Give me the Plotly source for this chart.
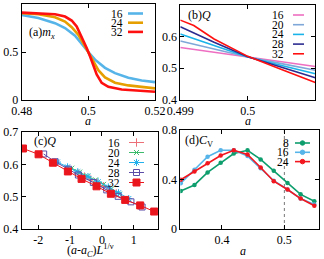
import plotly.graph_objects as go

# ---------------- data ----------------
# (a) m_x vs a
a16 = [0.48, 0.485, 0.49, 0.493, 0.496, 0.498, 0.5, 0.502, 0.505, 0.508, 0.512, 0.516, 0.52]
mx16 = [0.886, 0.855, 0.80, 0.75, 0.67, 0.58, 0.50, 0.42, 0.335, 0.28, 0.232, 0.204, 0.186]
a24 = [0.48, 0.485, 0.49, 0.493, 0.495, 0.497, 0.499, 0.5, 0.501, 0.503, 0.505, 0.508, 0.512, 0.516, 0.52]
mx24 = [0.903, 0.893, 0.862, 0.817, 0.759, 0.679, 0.559, 0.5, 0.43, 0.31, 0.235, 0.18, 0.152, 0.134, 0.121]
a32 = [0.48, 0.485, 0.49, 0.493, 0.495, 0.4965, 0.498, 0.4995, 0.5005, 0.5015, 0.5025, 0.504, 0.506, 0.51, 0.515, 0.52]
mx32 = [0.910, 0.903, 0.893, 0.869, 0.828, 0.766, 0.662, 0.541, 0.455, 0.352, 0.266, 0.179, 0.138, 0.110, 0.097, 0.086]

# (b) Q vs a
b_a = [0.499, 0.4995, 0.5, 0.5005, 0.501]
b_a32 = [0.499, 0.4992, 0.4995, 0.5, 0.5005, 0.501]
Q16 = [0.565, 0.550, 0.536, 0.520, 0.505]
Q20 = [0.586, 0.561, 0.535, 0.514, 0.493]
Q24 = [0.608, 0.571, 0.535, 0.508, 0.482]
Q28 = [0.631, 0.582, 0.536, 0.502, 0.469]
Q32 = [0.652, 0.635, 0.592, 0.537, 0.495, 0.454]

# (c) scaling collapse
c16_x = [-0.75, -0.55, -0.35, -0.15, 0.05, 0.25, 0.45]
c16_y = [0.572, 0.562, 0.553, 0.543, 0.532, 0.521, 0.510]
c20_x = [-0.95, -0.70, -0.45, -0.20, 0.05, 0.30, 0.55]
c20_y = [0.588, 0.576, 0.564, 0.552, 0.538, 0.524, 0.508]
c24_x = [-1.40, -1.08, -0.76, -0.44, -0.12, 0.20, 0.52, 0.84]
c24_y = [0.607, 0.592, 0.577, 0.562, 0.546, 0.530, 0.512, 0.494]
c28_x = [-1.83, -1.47, -1.05, -0.74, -0.27, 0.15, 0.51, 0.91, 1.26]
c28_y = [0.632, 0.608, 0.585, 0.567, 0.544, 0.521, 0.501, 0.484, 0.468]
c32_x = [-2.48, -1.99, -1.54, -1.07, -0.64, -0.17, 0.28, 0.73, 1.20, 1.64]
c32_y = [0.649, 0.631, 0.605, 0.578, 0.555, 0.532, 0.509, 0.490, 0.473, 0.454]

# (d) C_V vs a
d_a = [0.334, 0.356, 0.377, 0.398, 0.419, 0.441, 0.462, 0.483, 0.505, 0.526, 0.548]
cv8 = [0.307, 0.356, 0.457, 0.536, 0.610, 0.636, 0.562, 0.470, 0.372, 0.280, 0.224]
cv16 = [0.370, 0.478, 0.584, 0.636, 0.636, 0.589, 0.491, 0.390, 0.319, 0.246, 0.198]
cv24 = [0.398, 0.465, 0.531, 0.594, 0.636, 0.602, 0.497, 0.386, 0.319, 0.246, 0.188]

a_sizes = ["16", "24", "32"]
b_sizes = ["16", "20", "24", "28", "32"]
d_sizes = ["8", "16", "24"]

W, H = 324, 259
FONT = "Liberation Serif"
FS = 12
LFS = 11.5


def px(x):
    return x / W


def py(y):
    return 1 - y / H


fig = go.Figure()

# ---- colours ----
ca = ["#56B4E9", "#E69F00", "#FF1010"]
cb = ["#EE6FC2", "#7FA8D8", "#19B3EA", "#2C2C90", "#FF1010"]
cc = ["#EC6F78", "#3DBB6C", "#22B0EC", "#5B4DA8", "#EA161E"]
cd = ["#0E9E6E", "#56B4E9", "#F2161E"]

# ---- panel a ----
for x, y, c in zip([a16, a24, a32], [mx16, mx24, mx32], ca):
    fig.add_trace(go.Scatter(x=x, y=y, mode="lines", line=dict(color=c, width=2.6),
                             xaxis="x", yaxis="y", showlegend=False, hoverinfo="skip"))

# ---- panel b ----
for x, y, c in zip([b_a, b_a, b_a, b_a, b_a32], [Q16, Q20, Q24, Q28, Q32], cb):
    fig.add_trace(go.Scatter(x=x, y=y, mode="lines", line=dict(color=c, width=1.6),
                             xaxis="x2", yaxis="y2", showlegend=False, hoverinfo="skip"))

# ---- panel c ----
c_sets = [(c16_x, c16_y, "cross-thin-open", 6), (c20_x, c20_y, "x-thin-open", 5),
          (c24_x, c24_y, "asterisk-open", 6), (c28_x, c28_y, "square-open", 6),
          (c32_x, c32_y, "square", 7)]
for (x, y, sym, sz), c in zip(c_sets, cc):
    fig.add_trace(go.Scatter(x=x, y=y, mode="lines+markers",
                             line=dict(color=c, width=1),
                             marker=dict(symbol=sym, size=sz, color=c, line=dict(color=c, width=1)),
                             xaxis="x3", yaxis="y3", showlegend=False, hoverinfo="skip"))

# ---- panel d ----
for y, c in zip([cv8, cv16, cv24], cd):
    fig.add_trace(go.Scatter(x=d_a, y=y, mode="lines+markers",
                             line=dict(color=c, width=1.6),
                             marker=dict(symbol="circle", size=4.5, color=c),
                             xaxis="x4", yaxis="y4", showlegend=False, hoverinfo="skip"))

# dotted reference line at a = 0.5 in panel d
fig.add_shape(type="line", xref="x4", yref="y4", x0=0.5, x1=0.5, y0=0, y1=0.8,
              line=dict(color="#555555", width=0.8, dash="dot"), layer="below")

# ---- legend keys (overlay pixel axis) ----
def key_line(x0, x1, y, color, width, sym=None, sz=None):
    fig.add_trace(go.Scatter(x=[x0, x1], y=[y, y], mode="lines",
                             line=dict(color=color, width=width),
                             xaxis="x5", yaxis="y5", showlegend=False, hoverinfo="skip"))
    if sym:
        fig.add_trace(go.Scatter(x=[(x0 + x1) / 2], y=[y], mode="markers",
                                 marker=dict(symbol=sym, size=sz, color=color,
                                             line=dict(color=color, width=1)),
                                 xaxis="x5", yaxis="y5", showlegend=False, hoverinfo="skip"))


def key_text(x, y, t):
    fig.add_annotation(x=px(x), y=py(y), xref="paper", yref="paper", text=t,
                       showarrow=False, xanchor="right", yanchor="middle",
                       font=dict(family=FONT, size=LFS, color="black"))


for i, (s, c) in enumerate(zip(a_sizes, ca)):
    yy = 13.5 + i * 9.2
    key_text(125, yy, s)
    key_line(128, 143, yy, c, 2.6)

for i, (s, c) in enumerate(zip(b_sizes, cb)):
    yy = 15 + i * 9.7
    key_text(286, yy, s)
    key_line(293, 304, yy, c, 1.6)

for i, (s, c, cs) in enumerate(zip(b_sizes, cc, c_sets)):
    yy = 142.5 + i * 10
    key_text(122, yy, s)
    key_line(129, 144, yy, c, 1, cs[2], cs[3])

for i, (s, c) in enumerate(zip(d_sizes, cd)):
    yy = 143 + i * 9.3
    key_text(291, yy, s)
    key_line(295, 310, yy, c, 1.6, "circle", 4.5)

# ---- panel labels and axis titles ----
def text(x, y, t, anchor="left", yanchor="middle"):
    fig.add_annotation(x=px(x), y=py(y), xref="paper", yref="paper", text=t,
                       showarrow=False, xanchor=anchor, yanchor=yanchor,
                       font=dict(family=FONT, size=FS, color="black"))


text(27, 33, "(a)<i>m</i><sub><i>x</i></sub>")
text(186, 15, "(b)<i>Q</i>")
text(32, 141, "(c)<i>Q</i>")
text(183, 141, "(d)<i>C</i><sub>V</sub>")
text(88, 121, "<i>a</i>", "center")
text(248, 121, "<i>a</i>", "center")
text(90, 261, "(<i>a</i>-<i>a</i><sub><i>C</i></sub>)<i>L</i><sup>1/ν</sup>", "center", "bottom")
text(243, 251, "<i>a</i>", "center")

# ---- axes ----
def ax(domain, rng, tickvals, ticktext=None, anchor=None):
    d = dict(domain=domain, range=rng, tickvals=tickvals, showline=True, linecolor="black",
             linewidth=1, mirror="allticks", ticks="inside", ticklen=4, tickcolor="black",
             showgrid=False, zeroline=False, automargin=False,
             tickfont=dict(family=FONT, size=FS, color="black"), anchor=anchor)
    if ticktext is not None:
        d["ticktext"] = ticktext
    return d


fig.update_layout(
    width=W, height=H, margin=dict(l=0, r=0, t=0, b=0),
    paper_bgcolor="white", plot_bgcolor="rgba(0,0,0,0)",
    xaxis=ax([px(21.7), px(155)], [0.48, 0.52], [0.48, 0.5, 0.52], ["0.48", "0.5", "0.52"], "y"),
    yaxis=ax([py(100), py(4)], [0, 1], [0, 0.5, 1], ["0", "0.5", "1"], "x"),
    xaxis2=ax([px(180.3), px(315.3)], [0.499, 0.501], [0.499, 0.5, 0.501], ["0.499", "0.5", "0.501"], "y2"),
    yaxis2=ax([py(99.5), py(5)], [0.4, 0.7], [0.4, 0.5, 0.6, 0.7], ["0.4", "0.5", "0.6", "0.7"], "x2"),
    xaxis3=ax([px(21.7), px(158)], [-2.52, 1.76], [-2, -1, 0, 1], ["-2", "-1", "0", "1"], "y3"),
    yaxis3=ax([py(229), py(132)], [0.4, 0.7], [0.4, 0.5, 0.6, 0.7], ["0.4", "0.5", "0.6", "0.7"], "x3"),
    xaxis4=ax([px(180.3), px(318.7)], [0.3333, 0.555], [0.4, 0.5], ["0.4", "0.5"], "y4"),
    yaxis4=ax([py(229), py(130)], [0, 0.8], [0, 0.4, 0.8], ["0", "0.4", "0.8"], "x4"),
    xaxis5=dict(domain=[0, 1], range=[0, W], visible=False, anchor="y5", fixedrange=True),
    yaxis5=dict(domain=[0, 1], range=[H, 0], visible=False, anchor="x5", fixedrange=True),
)

fig.write_html("out.html", post_script="document.body.style.margin='0';",
               config={"displayModeBar": False, "staticPlot": True})
